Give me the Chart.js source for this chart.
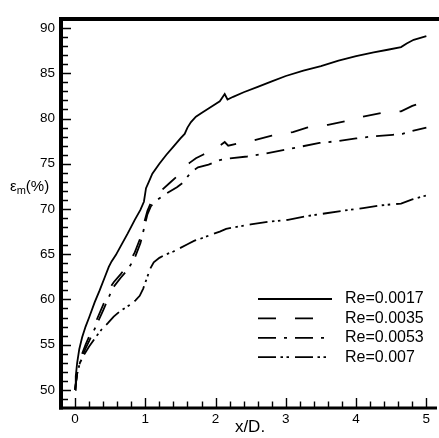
<!DOCTYPE html>
<html><head><meta charset="utf-8">
<script src="https://cdn.jsdelivr.net/npm/chart.js@4/dist/chart.umd.min.js"></script>
<style>html,body{margin:0;padding:0;background:#fff;overflow:hidden}canvas{display:block}</style>
</head><body>
<canvas id="c" width="439" height="438" style="width:439px;height:438px"></canvas>
<script>
// ---- data ----
const seriesLabels = ["Re=0.0017", "Re=0.0035", "Re=0.0053", "Re=0.007"];
const xTicks = [0, 1, 2, 3, 4, 5];
const yTicks = [50, 55, 60, 65, 70, 75, 80, 85, 90];

const x0017 = [0,0.01,0.03,0.06,0.1,0.15,0.2,0.28,0.35,0.42,0.48,0.52,0.58,0.65,0.75,0.85,0.93,0.98,1.01,1.05,1.1,1.2,1.3,1.4,1.5,1.56,1.6,1.65,1.72,1.8,1.9,2.0,2.06,2.13,2.17,2.25,2.4,2.6,2.8,3.0,3.25,3.5,3.75,4.0,4.25,4.45,4.64,4.72,4.82,5.0];
const y0017 = [50,51.5,53,54.5,55.8,57,58,59.7,61,62.4,63.6,64.2,64.9,65.9,67.3,68.8,69.9,70.8,72.3,73.0,73.9,75.0,76.0,76.9,77.8,78.3,79.0,79.6,80.2,80.6,81.1,81.6,81.9,82.7,82.1,82.4,82.9,83.5,84.1,84.7,85.3,85.8,86.4,86.9,87.3,87.6,87.9,88.3,88.7,89.1];

const x0035 = [0,0.03,0.08,0.15,0.2,0.3,0.4,0.45,0.5,0.55,0.65,0.75,0.85,0.93,0.98,1.03,1.08,1.15,1.25,1.35,1.45,1.55,1.63,1.72,1.82,1.95,2.06,2.13,2.18,2.3,2.5,2.8,3.1,3.3,3.6,3.85,4.1,4.35,4.64,4.8,5.0];
const y0035 = [50,52,53.6,55,55.9,57.6,59.4,60.3,61.3,61.9,62.8,63.8,65.2,66.8,68.4,69.8,70.7,71.4,72.2,72.9,73.6,74.5,75.1,75.6,76.0,76.5,77.0,77.4,77.0,77.2,77.5,78.1,78.5,79.0,79.3,79.7,80.2,80.6,80.8,81.4,81.9];

const x0053 = [0,0.03,0.08,0.15,0.2,0.3,0.4,0.5,0.55,0.65,0.75,0.85,0.93,0.98,1.03,1.08,1.15,1.3,1.45,1.55,1.65,1.75,1.9,2.06,2.2,2.45,2.7,2.96,3.22,3.48,3.74,4.0,4.26,4.52,4.66,4.78,5.0];
const y0053 = [50,51.8,53.3,54.6,55.4,57.1,58.8,60.6,61.4,62.4,63.3,64.6,66.2,67.8,69.4,70.3,70.9,71.7,72.4,73.0,74.1,74.6,74.9,75.4,75.6,75.8,76.1,76.5,76.9,77.3,77.5,77.8,78.05,78.2,78.3,78.6,79.0];

const x007 = [0,0.03,0.07,0.12,0.2,0.3,0.38,0.47,0.55,0.64,0.72,0.8,0.86,0.92,0.97,1.02,1.07,1.12,1.2,1.3,1.4,1.5,1.6,1.7,1.82,1.95,2.06,2.15,2.25,2.5,2.77,3.03,3.29,3.55,3.81,4.1,4.35,4.64,4.8,5.0];
const y007 = [50,51.8,53.0,53.8,54.8,55.9,56.7,57.4,58.1,58.7,59.1,59.5,59.9,60.4,61.2,62.3,63.4,64.1,64.6,65.0,65.3,65.7,66.1,66.5,66.8,67.2,67.5,67.8,67.95,68.3,68.6,68.8,69.2,69.5,69.8,70.1,70.4,70.6,71.05,71.5];

// ---- styles ----
const FONT = "'Liberation Sans', Arial, sans-serif";
const dashes = [[], [18, 19], [18, 8, 3, 8], [18, 4.5, 2.5, 3.5, 2.5, 6]];
const toPts = (xs, ys) => xs.map((x, i) => ({x, y: ys[i]}));
const seriesData = [toPts(x0017, y0017), toPts(x0035, y0035), toPts(x0053, y0053), toPts(x007, y007)];

const datasets = seriesData.map((d, i) => ({
  label: seriesLabels[i],
  data: d,
  borderColor: '#000',
  borderWidth: 1.8,
  borderDash: dashes[i],
  borderCapStyle: 'butt',
  pointRadius: 0,
  tension: 0,
  fill: false
}));

const framePlugin = {
  id: 'frame',
  afterDraw(chart) {
    const {ctx, chartArea: a, scales: {x, y}} = chart;
    ctx.save();
    ctx.strokeStyle = '#000';
    ctx.setLineDash([]);
    // inward minor/major ticks
    ctx.lineWidth = 1.4;
    ctx.beginPath();
    for (let k = Math.ceil(x.min * 5 + 1e-6); k <= Math.floor(x.max * 5 + 1e-6); k++) {
      const v = k / 5;
      const px = Math.round(x.getPixelForValue(v)) + 0.5;
      const major = k % 5 === 0;
      ctx.moveTo(px, a.bottom);
      ctx.lineTo(px, a.bottom - (major ? 10 : 6.5));
    }
    for (let v = Math.ceil(y.min + 1e-6); v <= Math.floor(y.max - 1e-6); v++) {
      const py = Math.round(y.getPixelForValue(v)) + 0.5;
      const major = v % 5 === 0;
      ctx.moveTo(a.left, py);
      ctx.lineTo(a.left + (major ? 10 : 7), py);
    }
    ctx.stroke();
    // axes lines
    ctx.lineWidth = 4;
    ctx.beginPath();
    ctx.moveTo(a.left, a.top - 2); ctx.lineTo(a.left, a.bottom + 1.5);
    ctx.moveTo(a.left - 2, a.top); ctx.lineTo(chart.width, a.top);
    ctx.stroke();
    ctx.lineWidth = 3;
    ctx.beginPath();
    ctx.moveTo(a.left - 2, a.bottom); ctx.lineTo(a.right - 2, a.bottom);
    ctx.stroke();
    // y axis title with subscript
    ctx.fillStyle = '#000';
    ctx.textBaseline = 'alphabetic';
    ctx.textAlign = 'left';
    let tx = 10;
    const by = 190.5;
    ctx.font = '15px ' + FONT;
    ctx.fillText('\u03B5', tx, by); tx += ctx.measureText('\u03B5').width;
    ctx.font = '11px ' + FONT;
    ctx.fillText('m', tx, by + 3); tx += ctx.measureText('m').width;
    ctx.font = '15px ' + FONT;
    ctx.fillText('(%)', tx, by);
    // legend
    chart.data.datasets.forEach((ds, i) => {
      const ly = 299 + i * 19.4;
      ctx.lineWidth = ds.borderWidth;
      ctx.setLineDash(ds.borderDash);
      ctx.lineDashOffset = 0;
      ctx.beginPath();
      ctx.moveTo(258, ly); ctx.lineTo(332, ly);
      ctx.stroke();
      ctx.setLineDash([]);
      ctx.font = '16px ' + FONT;
      ctx.textBaseline = 'middle';
      ctx.fillText(ds.label, 345, ly);
    });
    ctx.restore();
  }
};

new Chart(document.getElementById('c'), {
  type: 'line',
  data: {datasets},
  options: {
    responsive: false,
    devicePixelRatio: 1,
    animation: false,
    events: [],
    layout: {padding: {top: 19, right: 0, left: 0, bottom: 0}},
    plugins: {legend: {display: false}, tooltip: {enabled: false}},
    scales: {
      x: {
        type: 'linear', min: -0.2, max: 5.18,
        grid: {display: false, drawTicks: false},
        border: {display: false},
        afterBuildTicks: s => { s.ticks = xTicks.map(v => ({value: v})); },
        afterFit: s => { s.height = 30; },
        ticks: {padding: 3, color: '#000', font: {family: FONT, size: 13.5}, maxRotation: 0, autoSkip: false},
        title: {display: true, text: 'x/D.', color: '#000', font: {family: FONT, size: 17}, padding: {top: 0, bottom: 0}}
      },
      y: {
        type: 'linear', min: 48, max: 91,
        grid: {display: false, drawTicks: false},
        border: {display: false},
        afterBuildTicks: s => { s.ticks = yTicks.map(v => ({value: v})); },
        afterFit: s => { s.width = 61; },
        ticks: {padding: 6, color: '#000', font: {family: FONT, size: 13.5}, autoSkip: false}
      }
    }
  },
  plugins: [framePlugin]
});
</script>
</body></html>
